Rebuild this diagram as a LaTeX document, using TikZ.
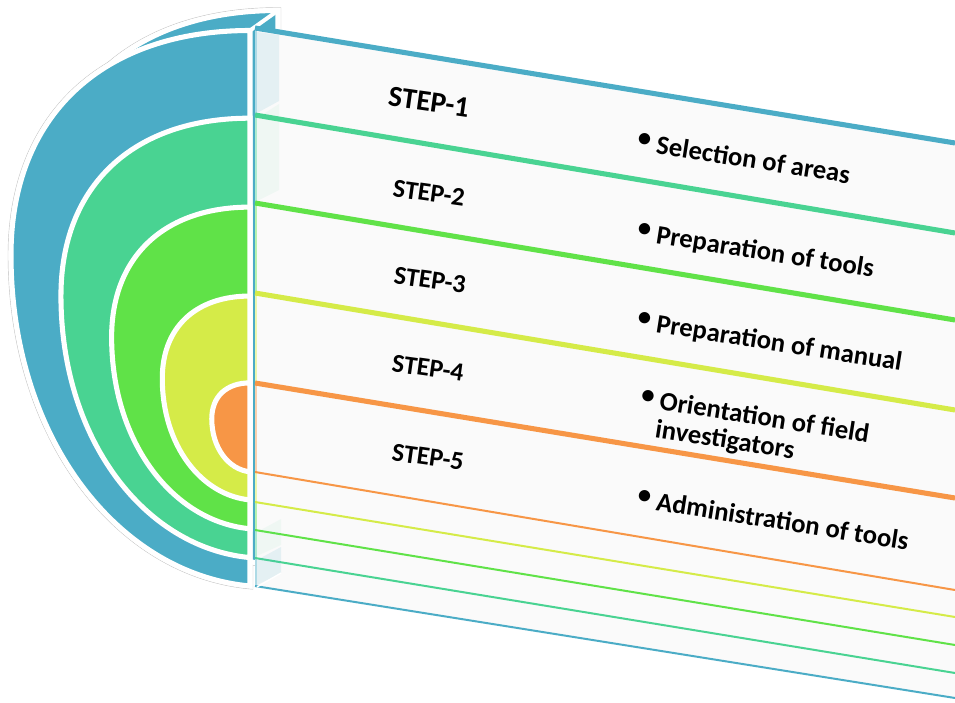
\documentclass[tikz,border=0pt]{standalone}
\usepackage{fontspec}
\setmainfont{Carlito}
\definecolor{ringblue}{HTML}{4BACC6}
\definecolor{ringteal}{HTML}{49D392}
\definecolor{ringgreen}{HTML}{60E248}
\definecolor{ringyellow}{HTML}{D5EB48}
\definecolor{ringorange}{HTML}{F79646}
% left half of the outer ring, taken about the point where the rings shrink to
\newcommand{\halfring}{(0,136) .. controls (-132,124) and (-239,-12) .. (-239,-195) .. controls (-239,-334) and (-148,-419.5) .. (0,-419.5) -- cycle}
\newcommand{\itembullet}{\raisebox{0.16em}{\textbullet}\ }

\begin{document}
\begin{tikzpicture}[x=0.75pt,y=-0.75pt,
	steplabel/.style={font=\fontsize{19.5}{22}\selectfont\bfseries,rotate=-8,inner sep=0pt},
	itemlabel/.style={font=\fontsize{20}{21}\selectfont\bfseries,rotate=-9,anchor=base west,align=left,inner sep=0pt}]
		%\draw [help lines,step=50] (0,0) grid (955,702);
		\useasboundingbox (0,0) rectangle (955,702);
		\clip (0,0) rectangle (955,702);
		%grey rim round the half cylinder, back and front
		\foreach \dx/\dy in {28/-20,0/0}{
			\begin{scope}[shift={(250+\dx,450+\dy)}]
				\draw [gray!45,line width=4.8pt] \halfring;
				\draw [white,line width=3.8pt] \halfring;
			\end{scope}
		}
		%back of the outer ring, only the top lip shows
		\begin{scope}[shift={(278,430)}]
			\filldraw [fill=ringblue,draw=white,line width=3.8pt] \halfring;
		\end{scope}
		%the rings, outer to inner
		\foreach \s/\col in {1/ringblue,0.791/ringteal,0.579/ringgreen,0.367/ringyellow,0.16/ringorange}{
			\begin{scope}[shift={(250,450)},scale=\s]
				\filldraw [fill=\col,draw=white,line width=3.8pt] \halfring;
			\end{scope}
		}
		\draw [white,line width=3pt] (250,30.5) -- (278,10.5);
		%the slabs going off to the right
		\foreach \t/\tt/\b/\bb/\col in {28/143/586/698/ringblue,115/233/558/673/ringteal,203/320/530/645/ringgreen,293/410/502/617/ringyellow,383/498/472/590/ringorange}{
			\fill [gray!4] (255,\t) -- (955,\tt) -- (955,\bb) -- (255,\b) -- cycle;
			\draw [\col!45,line width=0.8pt] (256,\t) -- (256,\b);
			\draw [\col,line width=3.8pt] (255,\t) -- (955,\tt);
			\draw [\col,line width=1.5pt] (255,\b) -- (955,\bb);
		}
		%side faces seen through the outer slabs
		\fill [ringblue,opacity=0.12] (257,32) -- (279,35) -- (279,101) -- (257,113) -- cycle;
		\fill [ringblue,opacity=0.12] (257,560) -- (281,547) -- (281,573) -- (257,585) -- cycle;
		\fill [ringteal,opacity=0.06] (257,118) -- (279,104) -- (279,190) -- (257,201) -- cycle;
		\fill [ringteal,opacity=0.06] (257,532) -- (281,519) -- (281,545) -- (257,556) -- cycle;
		\draw [white,line width=1pt] (257,587) -- (281,573);
		%step names
		\node [steplabel,font=\fontsize{22}{24}\selectfont\bfseries] (step1) at (429,102) {STEP-1};
		\node [steplabel] (step2) at (429,193) {STEP-2};
		\node [steplabel] (step3) at (430,280) {STEP-3};
		\node [steplabel] (step4) at (428,368) {STEP-4};
		\node [steplabel] (step5) at (428,457) {STEP-5};
		%what is done in each step
		\node [itemlabel] (item1) at (636,150) {\itembullet Selection of areas};
		\node [itemlabel] (item2) at (636,240) {\itembullet Preparation of tools};
		\node [itemlabel] (item3) at (636,329) {\itembullet Preparation of manual};
		\node [itemlabel] (item4) at (635,434) {\itembullet Orientation of field\\\phantom{\itembullet}investigators};
		\node [itemlabel] (item5) at (636,507) {\itembullet Administration of tools};
		\end{tikzpicture}
\end{document}
